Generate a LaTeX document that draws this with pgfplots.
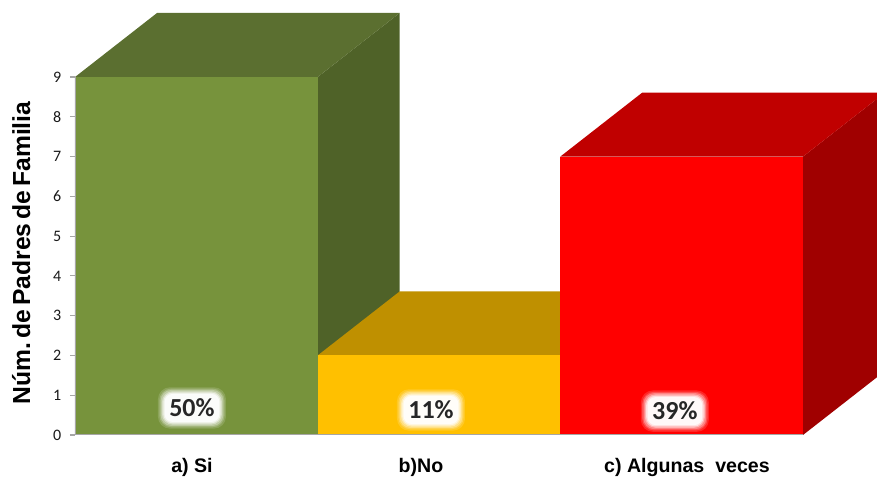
\documentclass[border=0pt]{standalone}
\usepackage{fontspec}
\setmainfont{Liberation Sans}
\newfontfamily\carlito{Carlito}
\usepackage{pgfplots}
\pgfplotsset{compat=1.18}
\definecolor{verde}{HTML}{77933C}
\definecolor{verdetop}{HTML}{5B6F30}
\definecolor{verdeside}{HTML}{4F6228}
\definecolor{amarillo}{HTML}{FFC000}
\definecolor{amarillotop}{HTML}{BF9000}
\definecolor{rojo}{HTML}{FF0000}
\definecolor{rojotop}{HTML}{C00000}
\definecolor{rojoside}{HTML}{A00000}
\definecolor{ejes}{HTML}{A6A6A6}
% percent label with a soft white glow behind it
\newcommand{\glowlabel}[3]{%
  \node[fill=white,fill opacity=0.15,rounded corners=9pt,minimum width=51pt,minimum height=31pt] at (axis cs:#1,#2) {};
  \node[fill=white,fill opacity=0.2,rounded corners=9pt,minimum width=49pt,minimum height=29pt] at (axis cs:#1,#2) {};
  \node[fill=white,fill opacity=0.3,rounded corners=8pt,minimum width=47pt,minimum height=27pt] at (axis cs:#1,#2) {};
  \node[fill=white,fill opacity=0.4,rounded corners=8pt,minimum width=45pt,minimum height=25pt] at (axis cs:#1,#2) {};
  \node[fill=white,fill opacity=0.6,rounded corners=7pt,minimum width=43pt,minimum height=23pt] at (axis cs:#1,#2) {};
  \node[fill=white,fill opacity=0.8,rounded corners=6pt,minimum width=41pt,minimum height=21pt] at (axis cs:#1,#2) {};
  \node[font=\carlito\bfseries\fontsize{19.5}{22}\selectfont,text=black!85] at (axis cs:#1,#2) {#3};
}
\begin{document}
\begin{tikzpicture}
\path[use as bounding box] (-56.25pt,-31.5pt) rectangle (601.5pt,326.25pt);
\begin{axis}[
  at={(0pt,0pt)}, anchor=south west,
  scale only axis, width=601.5pt, height=316.5pt,
  xmin=0, xmax=3.305, ymin=0, ymax=10.61,
  axis line style={draw=none},
  tick pos=left, tick align=outside,
  ytick={0,...,9},
  xtick={0.482,1.426,2.522},
  xticklabels={a) Si,b)No,c) Algunas\ \ veces},
  xtick style={draw=none},
  ytick style={draw=ejes,line width=0.8pt},
  major tick length=3.75pt,
  yticklabel style={font=\carlito\fontsize{12}{14}\selectfont,text=black!90,xshift=-3pt},
  /pgf/number format/assume math mode=true,
  xticklabel style={font=\bfseries\fontsize{14.7}{16}\selectfont,text=black,yshift=-10pt},
  every axis y label/.style={at={(axis cs:-0.222,4.58)},rotate=90,anchor=center},
  ylabel={Núm.\hspace{3pt}de\hspace{3pt}Padres\hspace{3pt}de\hspace{3pt}Familia},
  ylabel style={font=\bfseries\fontsize{18.5}{20}\selectfont},
]
% caras laterales y superiores
\addplot[fill=verdeside,draw=none] coordinates {(1,0) (1.338,1.61) (1.338,10.61) (1,9)} -- cycle;
\addplot[fill=verdetop,draw=none] coordinates {(0,9) (1,9) (1.338,10.61) (0.338,10.61)} -- cycle;
\addplot[fill=amarillotop,draw=none] coordinates {(1,2) (2,2) (2.338,3.61) (1.338,3.61)} -- cycle;
\addplot[fill=rojoside,draw=none] coordinates {(3,0) (3.338,1.61) (3.338,8.61) (3,7)} -- cycle;
\addplot[fill=rojotop,draw=none] coordinates {(2,7) (3,7) (3.338,8.61) (2.338,8.61)} -- cycle;
% caras frontales
\addplot[fill=verde,draw=none] coordinates {(0,0) (0,9) (1,9) (1,0)} -- cycle;
\addplot[fill=amarillo,draw=none] coordinates {(1,0) (1,2) (2,2) (2,0)} -- cycle;
\addplot[fill=rojo,draw=none] coordinates {(2,0) (2,7) (3,7) (3,0)} -- cycle;
% ejes
\addplot[draw=ejes,line width=0.8pt,forget plot] coordinates {(0,9) (0,0) (3,0)};
\glowlabel{0.482}{0.68}{50\%}
\glowlabel{1.467}{0.63}{11\%}
\glowlabel{2.472}{0.60}{39\%}
\end{axis}
\end{tikzpicture}
\end{document}
